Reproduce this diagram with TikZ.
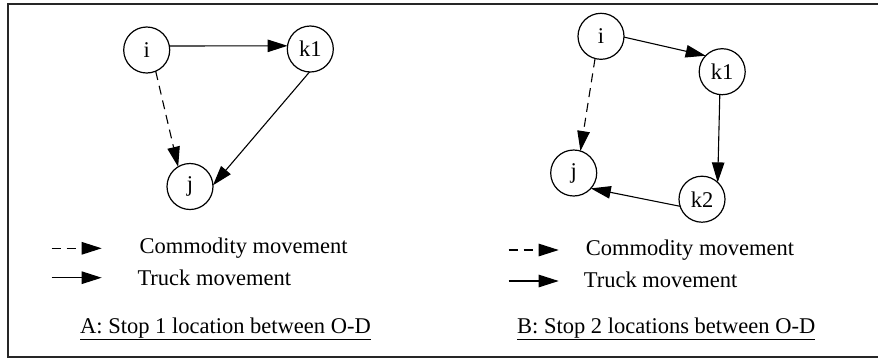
\documentclass[tikz,border=0pt]{standalone}
\usepackage{fontspec}
\setmainfont{Liberation Serif}
\usetikzlibrary{arrows.meta}
\begin{document}
\begin{tikzpicture}[x=1pt,y=-1pt,
  vert/.style={circle,draw,line width=1.2pt,minimum size=46pt,inner sep=0pt,outer sep=0pt,font=\fontsize{22.5}{27}\selectfont},
  tipstyle/.style={-{Triangle[length=20pt,width=12.5pt]}},
  edge/.style={tipstyle,line width=1.1pt},
  dashededge/.style={edge,dash pattern=on 9pt off 6pt},
  lbl/.style={anchor=base west,inner sep=0pt,font=\fontsize{22.5}{27}\selectfont}]
\useasboundingbox (0,0) rectangle (878,360);
\clip (0,0) rectangle (878,360);
\draw[line width=1.5pt,black!85] (885,4) -- (8,4) -- (8,357) -- (885,357);

% Panel A
\node[vert] (ai) at (146.7,50) {i};
\node[vert] (ak) at (310.3,49) {k1};
\node[vert] (aj) at (190,186.5) {j};
\draw[edge] (ai.10) -- (ak.172);
\draw[dashededge] (ai.-67) -- (aj.121);
\draw[edge] (ak.-92) -- (aj.3);

\coordinate (ad1) at (51.7,248.3);
\coordinate (ad2) at (101.7,248.3);
\coordinate (as1) at (51.7,277.7);
\coordinate (as2) at (101.7,277.7);
\draw[dashededge] (ad1) -- (ad2);
\draw[edge] (as1) -- (as2);
\node[lbl] (ac) at (139.3,253.3) {Commodity movement};
\node[lbl] (at) at (137.3,285) {Truck movement};
\node[lbl] (acap) at (80,333.3) {\underline{A: Stop 1 location between O-D}};

% Panel B
\node[vert] (bi) at (601,36.3) {i};
\node[vert] (bk1) at (722.2,71.7) {k1};
\node[vert] (bj) at (573.7,173) {j};
\node[vert] (bk2) at (702,199.2) {k2};
\draw[edge] (bi.-2) -- (bk1.136);
\draw[dashededge] (bi.-105) -- (bj.73);
\draw[edge] (bk1.-96) -- (bk2.47);
\draw[edge] (bk2.198) -- (bj.-42);

\coordinate (bd1) at (508.7,250);
\coordinate (bd2) at (558.7,250);
\coordinate (bs1) at (508.7,281);
\coordinate (bs2) at (558.7,281);
\draw[dashededge] (bd1) -- (bd2);
\draw[edge] (bs1) -- (bs2);
\node[lbl] (bc) at (585.7,255) {Commodity movement};
\node[lbl] (bt) at (583.7,287.3) {Truck movement};
\node[lbl] (bcap) at (517,333.3) {\underline{B: Stop 2 locations between O-D}};
\end{tikzpicture}
\end{document}
